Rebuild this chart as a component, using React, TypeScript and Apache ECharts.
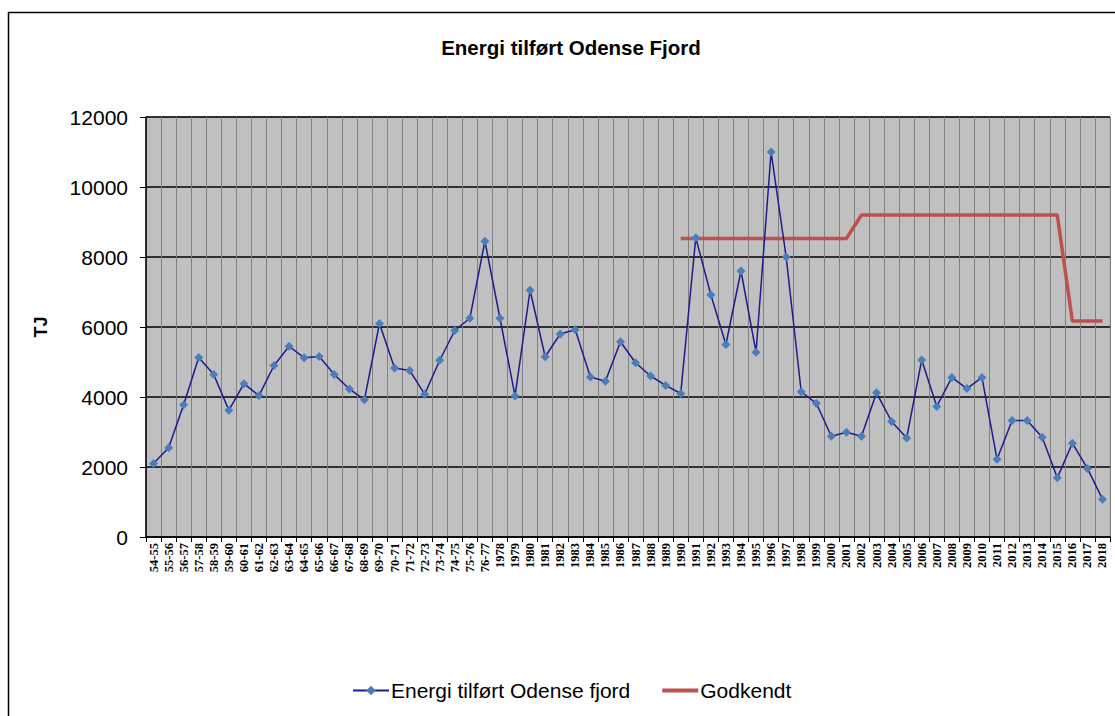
import React, { useEffect, useRef } from "react";
import * as echarts from "echarts";

// Season / year labels along the x-axis
const categories: string[] = [
  "54-55", "55-56", "56-57", "57-58", "58-59", "59-60", "60-61", "61-62", "62-63", "63-64",
  "64-65", "65-66", "66-67", "67-68", "68-69", "69-70", "70-71", "71-72", "72-73", "73-74",
  "74-75", "75-76", "76-77", "1978", "1979", "1980", "1981", "1982", "1983", "1984",
  "1985", "1986", "1987", "1988", "1989", "1990", "1991", "1992", "1993", "1994",
  "1995", "1996", "1997", "1998", "1999", "2000", "2001", "2002", "2003", "2004",
  "2005", "2006", "2007", "2008", "2009", "2010", "2011", "2012", "2013", "2014",
  "2015", "2016", "2017", "2018",
];

// Energy delivered to Odense Fjord (TJ)
const energi: number[] = [
  2100, 2550, 3780, 5130, 4640, 3620, 4380, 4040, 4900, 5450,
  5120, 5160, 4640, 4230, 3920, 6100, 4830, 4760, 4080, 5050,
  5900, 6250, 8450, 6250, 4030, 7050, 5150, 5800, 5920, 4570,
  4450, 5580, 4980, 4600, 4330, 4100, 8550, 6920, 5500, 7600,
  5280, 11000, 8000, 4150, 3820, 2880, 2990, 2880, 4120, 3300,
  2830, 5060, 3730, 4560, 4240, 4560, 2220, 3330, 3330, 2850,
  1690, 2680, 1960, 1080,
];

// Approved level (TJ), from 1990 onwards
const godkendt: (number | null)[] = [
  null, null, null, null, null, null, null, null, null, null,
  null, null, null, null, null, null, null, null, null, null,
  null, null, null, null, null, null, null, null, null, null,
  null, null, null, null, null, 8530, 8530, 8530, 8530, 8530,
  8530, 8530, 8530, 8530, 8530, 8530, 8530, 9200, 9200, 9200,
  9200, 9200, 9200, 9200, 9200, 9200, 9200, 9200, 9200, 9200,
  9200, 6170, 6170, 6170,
];

const yTicks = { min: 0, max: 12000, interval: 2000 };

const sans = "'Liberation Sans', Arial, sans-serif";

export default function App() {
  const ref = useRef<HTMLDivElement>(null);

  useEffect(() => {
    if (!ref.current) return;
    const chart = echarts.init(ref.current, null, { renderer: "svg" });
    chart.setOption({
      animation: false,
      backgroundColor: "#ffffff",
      graphic: [
        {
          type: "rect",
          shape: { x: 8.5, y: 12.5, width: 1130, height: 720 },
          style: { fill: "none", stroke: "#000000", lineWidth: 1.5 },
          silent: true,
          z: 100,
        },
        {
          type: "text",
          x: 571,
          y: 47,
          style: {
            text: "Energi tilført Odense Fjord",
            font: `bold 20.5px ${sans}`,
            fill: "#000000",
            align: "center",
            verticalAlign: "middle",
          },
        },
      ],
      legend: {
        left: 352,
        top: 680,
        padding: 0,
        itemWidth: 36,
        itemHeight: 12,
        itemGap: 32,
        textStyle: {
          fontSize: 21,
          fontFamily: sans,
          color: "#000000",
          padding: [0, 0, 0, -3],
        },
        data: [
          { name: "Energi tilført Odense fjord" },
          { name: "Godkendt", icon: "path://M0 0 L36 0 L36 4 L0 4 Z" },
        ],
      },
      grid: {
        left: 146,
        right: 5,
        top: 117,
        bottom: 179,
        show: true,
        backgroundColor: "#c0c0c0",
        borderColor: "#a6a6a6",
        borderWidth: 1,
      },
      xAxis: {
        type: "category",
        data: categories,
        boundaryGap: true,
        axisLine: { show: true, lineStyle: { color: "#000000", width: 1.5 } },
        axisTick: { show: true, length: 5, interval: 0, lineStyle: { color: "#000000" } },
        axisLabel: {
          interval: 0,
          rotate: 90,
          margin: 6,
          fontSize: 12.5,
          fontWeight: "bold",
          fontFamily: "'Liberation Serif', 'Times New Roman', serif",
          color: "#000000",
        },
        splitLine: { show: true, interval: 0, lineStyle: { color: "#808080", width: 1 } },
      },
      yAxis: {
        type: "value",
        min: yTicks.min,
        max: yTicks.max,
        interval: yTicks.interval,
        name: "TJ",
        nameLocation: "middle",
        nameRotate: 90,
        nameGap: 96,
        nameTextStyle: {
          fontSize: 18,
          fontWeight: "bold",
          fontFamily: sans,
          color: "#000000",
        },
        axisLine: { show: true, lineStyle: { color: "#000000", width: 1.5 } },
        axisTick: { show: true, length: 6, lineStyle: { color: "#000000" } },
        axisLabel: {
          margin: 18,
          fontSize: 21,
          fontFamily: sans,
          color: "#000000",
          formatter: (v: number) => String(v),
        },
        splitLine: { show: true, lineStyle: { color: "#000000", width: 1.5 } },
      },
      series: [
        {
          name: "Energi tilført Odense fjord",
          type: "line",
          data: energi,
          symbol: "diamond",
          symbolSize: 9,
          showAllSymbol: true,
          lineStyle: { color: "#1c1c8c", width: 1.5 },
          itemStyle: { color: "#4a7ebb" },
          z: 3,
        },
        {
          name: "Godkendt",
          type: "line",
          data: godkendt,
          symbol: "none",
          connectNulls: false,
          lineStyle: { color: "#c0504d", width: 3.5 },
          itemStyle: { color: "#c0504d" },
          z: 2,
        },
      ],
    });
    return () => chart.dispose();
  }, []);

  return (
    <div
      ref={ref}
      style={{ position: "fixed", left: 0, top: 0, width: 1115, height: 716 }}
    />
  );
}
